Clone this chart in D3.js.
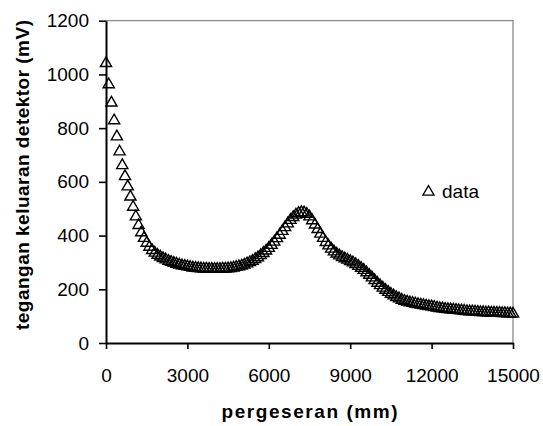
<!DOCTYPE html>
<html lang="en">
<head>
<meta charset="utf-8">
<title>tegangan keluaran detektor</title>
<script src="https://cdn.jsdelivr.net/npm/d3@7/dist/d3.min.js"></script>
<style>
body { margin: 0; background: #fff; }
text { font-family: Arial, "Liberation Sans", sans-serif; fill: #000; }
</style>
</head>
<body>
<script>
var xTicks = [0, 3000, 6000, 9000, 12000, 15000];
var yTicks = [0, 200, 400, 600, 800, 1000, 1200];

// pergeseran (mm), one reading every 100 mm
var posMm = [
  0, 100, 200, 300, 400, 500, 600, 700, 800, 900,
  1000, 1100, 1200, 1300, 1400, 1500, 1600, 1700, 1800, 1900,
  2000, 2100, 2200, 2300, 2400, 2500, 2600, 2700, 2800, 2900,
  3000, 3100, 3200, 3300, 3400, 3500, 3600, 3700, 3800, 3900,
  4000, 4100, 4200, 4300, 4400, 4500, 4600, 4700, 4800, 4900,
  5000, 5100, 5200, 5300, 5400, 5500, 5600, 5700, 5800, 5900,
  6000, 6100, 6200, 6300, 6400, 6500, 6600, 6700, 6800, 6900,
  7000, 7100, 7200, 7300, 7400, 7500, 7600, 7700, 7800, 7900,
  8000, 8100, 8200, 8300, 8400, 8500, 8600, 8700, 8800, 8900,
  9000, 9100, 9200, 9300, 9400, 9500, 9600, 9700, 9800, 9900,
  10000, 10100, 10200, 10300, 10400, 10500, 10600, 10700, 10800, 10900,
  11000, 11100, 11200, 11300, 11400, 11500, 11600, 11700, 11800, 11900,
  12000, 12100, 12200, 12300, 12400, 12500, 12600, 12700, 12800, 12900,
  13000, 13100, 13200, 13300, 13400, 13500, 13600, 13700, 13800, 13900,
  14000, 14100, 14200, 14300, 14400, 14500, 14600, 14700, 14800, 14900,
  15000
];

// tegangan keluaran detektor (mV)
var signalMv = [
  1045, 966, 898, 832, 772, 716, 665, 624, 586, 548,
  510, 474, 442, 415, 394, 376, 361, 349, 339, 331,
  325, 319, 314, 309, 305, 301, 298, 295, 292, 290,
  288, 286, 284, 283, 282, 281, 280, 280, 279, 279,
  279, 279, 279, 280, 280, 281, 282, 284, 286, 288,
  291, 295, 299, 304, 309, 315, 322, 330, 338, 347,
  357, 368, 380, 393, 406, 420, 434, 448, 461, 472,
  481, 487, 490, 489, 484, 474, 460, 444, 427, 410,
  394, 379, 366, 354, 344, 336, 329, 323, 318, 313,
  308, 303, 297, 290, 283, 275, 266, 257, 247, 237,
  227, 218, 209, 201, 193, 186, 180, 174, 169, 164,
  160, 157, 154, 152, 150, 148, 146, 144, 142, 140,
  139, 137, 135, 133, 132, 130, 129, 128, 127, 126,
  125, 124, 123, 122, 121, 121, 120, 119, 118, 118,
  117, 117, 116, 116, 115, 115, 114, 114, 113, 113,
  112
];

var seriesName = "data";

var W = 543, H = 426;
var plotL = 106, plotR = 513, plotT = 20.7, plotB = 343;

var svg = d3.select("body").append("svg").attr("width", W).attr("height", H);

var x = d3.scaleLinear().domain([0, 15000]).range([plotL, plotR]);
var y = d3.scaleLinear().domain([0, 1200]).range([plotB, plotT]);

// grey frame on top and right
svg.append("path")
  .attr("d", "M" + x(0) + "," + y(1200) + "H" + x(15000) + "V" + y(0))
  .attr("fill", "none")
  .attr("stroke", "#8a8a8a")
  .attr("stroke-width", 1.3);

var gy = svg.append("g")
  .attr("transform", "translate(" + plotL + ",0)")
  .call(d3.axisLeft(y).tickValues(yTicks).tickFormat(d3.format("d"))
    .tickSize(7).tickSizeOuter(0).tickPadding(10));

var gx = svg.append("g")
  .attr("transform", "translate(0," + plotB + ")")
  .call(d3.axisBottom(x).tickValues(xTicks).tickFormat(d3.format("d")).tickSize(6).tickSizeOuter(0));

[gx, gy].forEach(function(g) {
  g.select(".domain").attr("stroke", "#000").attr("stroke-width", 2);
  g.selectAll(".tick line").attr("stroke", "#000").attr("stroke-width", 1.6);
  g.selectAll(".tick text").attr("font-size", 19).attr("font-family", null);
});
gx.selectAll(".tick text").attr("y", 38.7).attr("dy", 0);

// markers: open triangles, centred on their box like the spreadsheet ones
var tri = d3.symbol().type(d3.symbolTriangle).size(54);
svg.append("g").selectAll("path")
  .data(posMm)
  .enter().append("path")
  .attr("d", tri)
  .attr("transform", function(d, i) { return "translate(" + x(d) + "," + (y(signalMv[i]) + 1) + ")"; })
  .attr("fill", "none")
  .attr("stroke", "#000")
  .attr("stroke-width", 1.4);

// legend
svg.append("path")
  .attr("d", tri)
  .attr("transform", "translate(428.5,192)")
  .attr("fill", "none")
  .attr("stroke", "#000")
  .attr("stroke-width", 1.3);
svg.append("text")
  .attr("x", 442).attr("y", 197.5)
  .attr("font-size", 19)
  .text(seriesName);

// axis titles
svg.append("text")
  .attr("x", (plotL + plotR) / 2).attr("y", 418)
  .attr("text-anchor", "middle")
  .attr("font-size", 19).attr("font-weight", "bold")
  .attr("textLength", 176).attr("lengthAdjust", "spacing")
  .text("pergeseran (mm)");

svg.append("text")
  .attr("transform", "translate(29,175) rotate(-90)")
  .attr("text-anchor", "middle")
  .attr("font-size", 19).attr("font-weight", "bold")
  .attr("textLength", 310).attr("lengthAdjust", "spacing")
  .text("tegangan keluaran detektor (mV)");
</script>
</body>
</html>
